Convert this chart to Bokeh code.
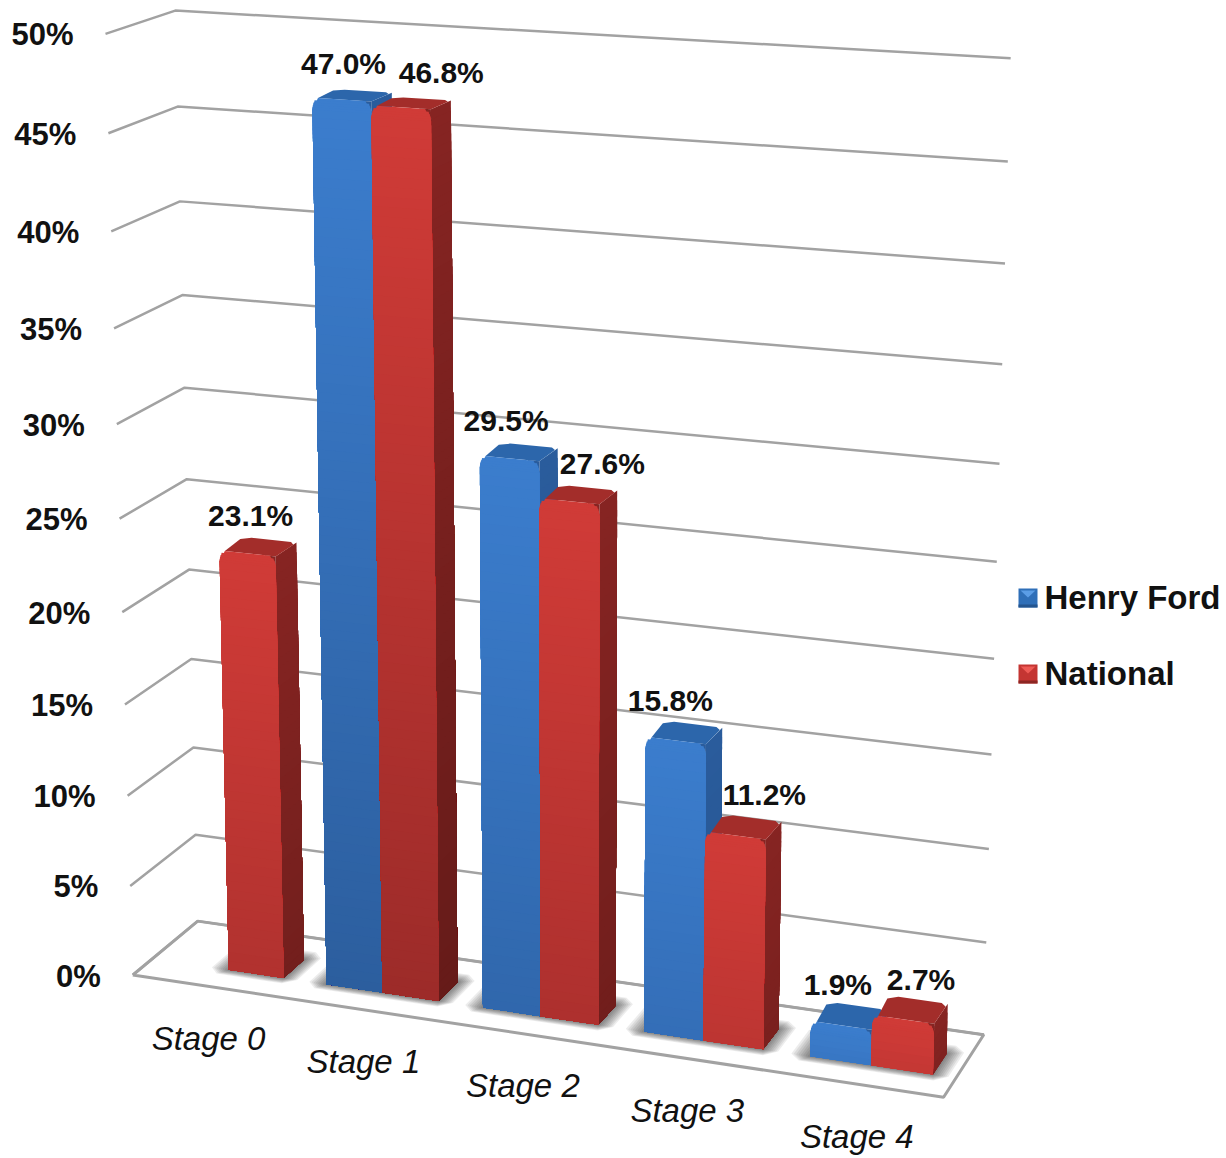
from bokeh.plotting import figure
from bokeh.models import Range1d
from bokeh.core.properties import value
from bokeh.embed import file_html
from bokeh.resources import INLINE
import numpy as np

# Chart data
stages = ["Stage 0", "Stage 1", "Stage 2", "Stage 3", "Stage 4"]
henry_ford = [None, 47.0, 29.5, 15.8, 1.9]
national = [23.1, 46.8, 27.6, 11.2, 2.7]
ticks = [0, 5, 10, 15, 20, 25, 30, 35, 40, 45, 50]
series_names = ["Henry Ford", "National"]

# Perspective calibration: box coordinates (slot, depth, percent) to page position
left_front = [(132, 975), (130, 885), (127, 795), (125, 702), (123, 610), (119, 519),
              (116, 425), (113, 328), (110, 231), (108, 133), (105, 33)]
left_back = [(196, 921), (195, 834), (193, 747), (191, 658), (189, 570), (186, 480),
             (184, 388), (182, 295), (180, 200), (177, 106), (175, 9)]
right_back = [(982, 1033), (986, 942), (989, 849), (992, 754), (994, 658), (997, 561),
              (999, 463), (1001, 364), (1004, 263), (1007, 161), (1010, 58)]


def solve_camera():
    rows = []
    def add(u, d, v, x, y):
        X = [u, d, v / 10, 1]
        x, y = x / 1000, y / 1000
        rows.append(X + [0, 0, 0, 0] + [-x * c for c in X])
        rows.append([0, 0, 0, 0] + X + [-y * c for c in X])
    for i, t in enumerate(ticks):
        add(0, 0, t, *left_front[i])
        add(0, 1, t, *left_back[i])
        add(5, 1, t, *right_back[i])
    add(5, 0, 0, 943, 1098)
    return np.linalg.svd(np.array(rows))[2][-1].reshape(3, 4)


CAM = solve_camera()


def project(u, d, v):
    X = np.array([u, d, v / 10, 1.0])
    a = CAM @ X
    return a[0] / a[2] * 1000, a[1] / a[2] * 1000


def poly(points):
    pts = [project(*q) for q in points]
    return [q[0] for q in pts], [q[1] for q in pts]


def mix(c1, c2, t):
    a = [int(c1[i:i + 2], 16) for i in (1, 3, 5)]
    b = [int(c2[i:i + 2], 16) for i in (1, 3, 5)]
    return "#" + "".join(f"{int(round(p + (q - p) * t)):02x}" for p, q in zip(a, b))


PALETTE = {
    "blue": dict(front_top="#3b7dcd", front_bot="#2c5e9e", side_top="#2a5c9c", side_bot="#1f4a80",
                 top="#2c66ab", swatch_light="#5b9de6", swatch_mid="#2f6fb8", swatch_dark="#24558f"),
    "red": dict(front_top="#d03b37", front_bot="#9c2b29", side_top="#862422", side_bot="#661b19",
                top="#a32d2a", swatch_light="#ee5a55", swatch_mid="#c43532", swatch_dark="#8c2623"),
}

BAR_W = 0.36
PAIR_START = 0.147
D0, D1 = 0.30, 0.63
BEV_V, BEV_U = 0.6, 0.035

xs, ys, cols = [], [], []
sx, sy = [], []


def add_face(points, color):
    x, y = poly(points)
    xs.append(x); ys.append(y); cols.append(color)


def add_bar(u0, val, name):
    pal = PALETTE[name]
    u1 = u0 + BAR_W
    amp = 0.2 + 0.8 * min(val / 47, 1)
    f_bot = mix(pal["front_top"], pal["front_bot"], amp)
    s_bot = mix(pal["side_top"], pal["side_bot"], amp)
    n = max(6, int(val * 2))
    edges = np.linspace(0, val, n + 1)
    # side wall: each band reaches the floor, the lower bands paint over it
    for b in edges[:0:-1]:
        add_face([(u1, D0, 0), (u1, D1, 0), (u1, D1, b), (u1, D0, b)],
                 mix(s_bot, pal["side_top"], b / val))
    # top cap
    dd = 0.05
    add_face([(u0 + BEV_U, D0, val), (u1, D0, val), (u1, D1 - dd, val), (u1 - BEV_U, D1, val),
              (u0 + 2 * BEV_U, D1, val), (u0 + BEV_U / 2, D1 - dd, val)], pal["top"])
    # filler behind the rounded right shoulder of the front wall
    add_face([(u1 - 2 * BEV_U, D0, val - BEV_V), (u1, D0, val - BEV_V), (u1, D0, val),
              (u1 - 2 * BEV_U, D0, val)], pal["side_top"])

    # front wall, with a rounded shoulder near the top
    def inset(v):
        t = max(0.0, (v - (val - BEV_V)) / BEV_V)
        return BEV_U * (1 - np.sqrt(max(0.0, 1 - t * t)))

    v_edges = sorted(set(list(edges[edges < val - BEV_V]) + list(np.linspace(val - BEV_V, val, 6))))
    for b in v_edges[:0:-1]:
        add_face([(u0, D0, 0), (u1, D0, 0), (u1, D0, val - BEV_V if b > val - BEV_V else b),
                  (u1 - inset(b), D0, b), (u0 + inset(b), D0, b),
                  (u0, D0, val - BEV_V if b > val - BEV_V else b)],
                 mix(f_bot, pal["front_top"], b / val))


def add_shadow(u0, u1):
    # soft floor shadow around a footprint
    for k in range(1, 9):
        e = 0.014 * k
        f = 0.018 * k
        c = e * 0.6
        g = f * 0.6
        a0, a1, b0, b1 = u0 - e, u1 + e * 0.8, D0 - f * 0.6, D1 + f
        x, y = poly([(a0 + c, b0, 0), (a1 - c, b0, 0), (a1, b0 + g, 0), (a1, b1 - g, 0),
                     (a1 - c, b1, 0), (a0 + c, b1, 0), (a0, b1 - g, 0), (a0, b0 + g, 0)])
        sx.append(x); sy.append(y)


for i, stage in enumerate(stages):
    start = i + PAIR_START
    hv, nv = henry_ford[i], national[i]
    add_shadow(start if hv is not None else start + BAR_W, start + 2 * BAR_W)
    if hv is not None:
        add_bar(start, hv, "blue")
    add_bar(start + BAR_W, nv, "red")

p = figure(width=1226, height=1158, x_range=Range1d(0, 1226), y_range=Range1d(1158, 0),
           output_backend="svg", toolbar_location=None, min_border=0, outline_line_color=None,
           background_fill_color="white", border_fill_color="white")
p.axis.visible = False
p.grid.visible = False

GRID = "#a2a2a2"
# walls: one bent line per tick
grid_x, grid_y = [], []
for t in ticks:
    x, y = poly([(0, 0, t), (0, 1, t), (5, 1, t)])
    grid_x.append(x); grid_y.append(y)
p.multi_line(grid_x, grid_y, line_color=GRID, line_width=2.5)
# floor outline
fx, fy = poly([(0, 0, 0), (0, 1, 0), (5, 1, 0), (5, 0, 0), (0, 0, 0)])
p.line(fx, fy, line_color=GRID, line_width=3)

p.patches(sx, sy, fill_color="black", fill_alpha=0.075, line_color=None)
p.patches(xs, ys, fill_color=cols, line_color=None)

LABEL_FONT = value("Liberation Sans")

# axis tick labels follow the front left edge
tick_pos = [project(0, 0, t) for t in ticks]
p.text([q[0] - 32 for q in tick_pos], [q[1] + 1 for q in tick_pos], text=[f"{t}%" for t in ticks],
       text_font=LABEL_FONT, text_font_style="bold", text_font_size="31px",
       text_align="right", text_baseline="middle", text_color="#111111")

# category labels below the front edge
cat_pos = [project(i + 0.5, 0, 0) for i in range(len(stages))]
p.text([q[0] for q in cat_pos], [q[1] + 52 for q in cat_pos], text=stages,
       text_font=LABEL_FONT, text_font_style="italic", text_font_size="33px",
       text_align="center", text_baseline="middle", text_color="#111111")

# value labels above the bars
label_offsets = {"blue": [None, (-19, -27), (-22, -25), (-22, -24), (-18, -21)],
                 "red": [(-18, -24), (20, -26), (15, -24), (13, -23), (4, -20)]}
lx, ly, lt = [], [], []
for i in range(len(stages)):
    for j, (vals, key) in enumerate(((henry_ford, "blue"), (national, "red"))):
        if vals[i] is None:
            continue
        uc = i + PAIR_START + BAR_W * (j + 0.5)
        q = project(uc, D1, vals[i])
        dx, dy = label_offsets[key][i]
        lx.append(q[0] + dx); ly.append(q[1] + dy); lt.append(f"{vals[i]:.1f}%")
p.text(lx, ly, text=lt, text_font=LABEL_FONT, text_font_style="bold",
       text_font_size="30px", text_align="center", text_baseline="middle", text_color="#111111")

# legend
for name, key, top in zip(series_names, ("blue", "red"), (588, 664)):
    pal = PALETTE[key]
    l, r, b = 1018, 1037, top + 19
    cx, m = (l + r) / 2, top + 9
    p.patches([[l, r, r, l], [l + 2, r - 2, cx]],
              [[top, top, b, b], [top + 2, top + 2, m]],
              fill_color=[pal["swatch_mid"], pal["swatch_light"]], line_color=None)
    p.quad(left=[l], right=[r], top=[b - 3], bottom=[b], fill_color=pal["swatch_dark"], line_color=None)
    p.text([1044], [top + 9], text=[name], text_font=LABEL_FONT, text_font_style="bold",
           text_font_size="33px", text_align="left", text_baseline="middle", text_color="#111111")

open("out.html", "w").write(file_html(p, INLINE))
